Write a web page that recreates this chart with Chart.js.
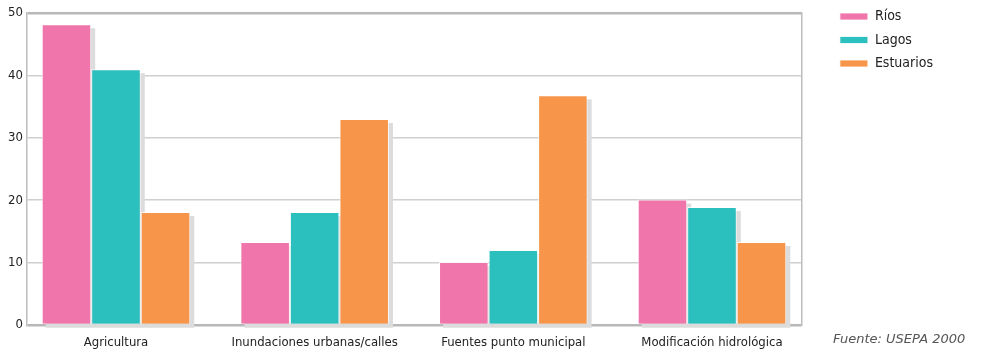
<!DOCTYPE html>
<html>
<head>
<meta charset="utf-8">
<script src="https://cdn.jsdelivr.net/npm/chart.js@4"></script>
<style>
  html, body { margin: 0; padding: 0; background: #fff; }
  #wrap { width: 996px; height: 358px; position: relative; }
</style>
</head>
<body>
<div id="wrap"><canvas id="myChart" width="996" height="358"></canvas></div>
<script>
const categories = ['Agricultura', 'Inundaciones urbanas/calles', 'Fuentes punto municipal', 'Modificación hidrológica'];
const rios = [48.2, 13.3, 10.1, 20.1];
const lagos = [41.0, 18.1, 12.0, 18.9];
const estuarios = [18.1, 33.0, 36.8, 13.3];
const yTicks = [0, 10, 20, 30, 40, 50];

const narrow = "'DejaVu Sans Condensed', 'Liberation Sans', sans-serif";

// gray drop shadow behind each bar, taken from the bar elements
const barShadow = {
    id: 'barShadow',
    beforeDatasetsDraw(chart) {
        const c = chart.ctx;
        c.save();
        c.fillStyle = '#dcdcdc';
        chart.data.datasets.forEach((ds, i) => {
            chart.getDatasetMeta(i).data.forEach(bar => {
                const p = bar.getProps(['x', 'y', 'base', 'width'], true);
                c.fillRect(p.x - p.width / 2 + 4, p.y + 4, p.width, p.base - p.y);
            });
        });
        c.restore();
    }
};

const sourceNote = {
    id: 'sourceNote',
    afterDraw(chart) {
        const c = chart.ctx;
        c.save();
        c.font = "italic 13px 'DejaVu Sans', sans-serif";
        c.fillStyle = '#555';
        c.textAlign = 'left';
        c.textBaseline = 'middle';
        c.fillText('Fuente: USEPA 2000', 833, 340);
        c.restore();
    }
};

const toPoints = arr => arr.map((v, i) => ({ x: i, y: v }));

const ctx = document.getElementById('myChart').getContext('2d');
const myChart = new Chart(ctx, {
    type: 'bar',
    data: {
        datasets: [{
            label: 'Ríos',
            data: toPoints(rios),
            backgroundColor: '#f075aa',
            borderColor: 'rgba(255,255,255,0.8)',
            borderWidth: 1
        }, {
            label: 'Lagos',
            data: toPoints(lagos),
            backgroundColor: '#2bbfbe',
            borderColor: 'rgba(255,255,255,0.8)',
            borderWidth: 1
        }, {
            label: 'Estuarios',
            data: toPoints(estuarios),
            backgroundColor: '#f7964a',
            borderColor: 'rgba(255,255,255,0.8)',
            borderWidth: 1
        }]
    },
    options: {
        responsive: false,
        animation: false,
        categoryPercentage: 0.748,
        barPercentage: 1,
        layout: { padding: { top: 0, right: 53, bottom: 0, left: 0 } },
        plugins: {
            tooltip: { enabled: false },
            legend: {
                position: 'right',
                align: 'start',
                labels: {
                    boxWidth: 28,
                    boxHeight: 7,
                    padding: 9.5,
                    color: '#222',
                    font: { family: narrow, size: 14 }
                }
            }
        },
        scales: {
            x: {
                type: 'linear',
                offset: false,
                min: -0.448,
                max: 3.45,
                afterBuildTicks: s => { s.ticks = categories.map((_, i) => ({ value: i })); },
                afterFit: s => { s.height = 33; },
                grid: { display: false, drawTicks: false },
                border: { display: false },
                ticks: {
                    padding: 10,
                    autoSkip: false,
                    maxRotation: 0,
                    color: '#222',
                    font: { family: narrow, size: 13 },
                    callback: v => categories[v]
                }
            },
            xTop: {
                type: 'linear',
                position: 'top',
                grid: { display: false },
                border: { display: false },
                ticks: { display: false },
                afterFit: s => { s.height = 13; }
            },
            y: {
                min: 0,
                max: 50,
                afterFit: s => { s.width = 27; },
                afterBuildTicks: s => { s.ticks = yTicks.map(v => ({ value: v })); },
                border: { display: true, color: '#bdbdbd', width: 1.5 },
                grid: {
                    drawTicks: false,
                    color: c => (c.tick.value === 0 || c.tick.value === 50) ? '#b8b8b8' : '#cfcfcf',
                    lineWidth: c => (c.tick.value === 0 || c.tick.value === 50) ? 2.5 : 1.5
                },
                ticks: {
                    padding: 4,
                    color: '#222',
                    font: { family: narrow, size: 13 }
                }
            },
            yRight: {
                type: 'linear',
                position: 'right',
                afterFit: s => { s.width = 29; },
                grid: { display: false },
                border: { display: true, color: '#bdbdbd', width: 1.5 },
                ticks: { display: false }
            }
        }
    },
    plugins: [barShadow, sourceNote]
});
</script>
</body>
</html>
